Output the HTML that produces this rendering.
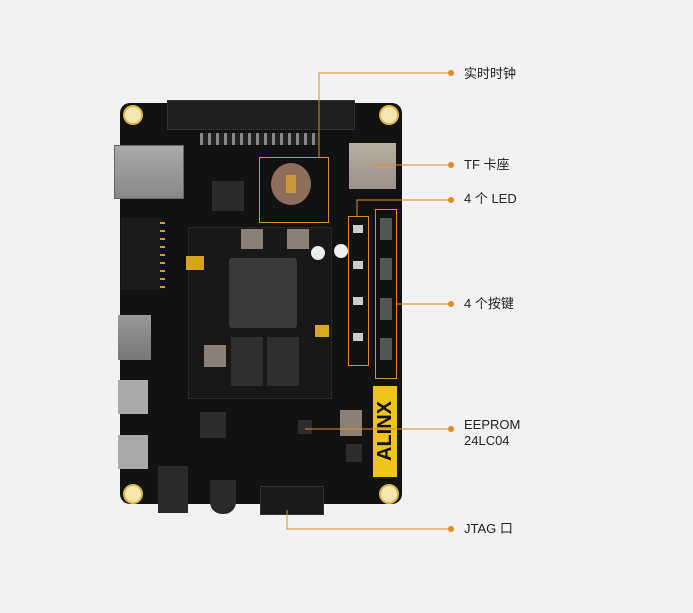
<!DOCTYPE html>
<html><head><meta charset="utf-8"><style>
html,body{margin:0;padding:0;background:#f2f2f2;width:693px;height:613px;overflow:hidden}
.a{position:absolute}
.t{position:absolute;font-family:"Liberation Sans","Noto Sans CJK SC",sans-serif;font-size:13px;color:#222;line-height:16px}
</style></head><body>
<div class="a" style="left:0;top:0;width:693px;height:613px">
<!-- board -->
<div class="a" style="left:120px;top:103px;width:282px;height:401px;background:#121212;border-radius:10px"></div>
<!-- mounting holes -->
<div class="a" style="left:123px;top:105px;width:16px;height:16px;border-radius:50%;background:#f4e7b0;border:2px solid #d9b645"></div>
<div class="a" style="left:379px;top:105px;width:16px;height:16px;border-radius:50%;background:#f4e7b0;border:2px solid #d9b645"></div>
<div class="a" style="left:123px;top:484px;width:16px;height:16px;border-radius:50%;background:#f4e7b0;border:2px solid #d9b645"></div>
<div class="a" style="left:379px;top:484px;width:16px;height:16px;border-radius:50%;background:#f4e7b0;border:2px solid #d9b645"></div>
<!-- top header -->
<div class="a" style="left:167px;top:100px;width:186px;height:28px;background:#1e1e1e;border:1px solid #333"></div>
<!-- small parts row -->
<div class="a" style="left:200px;top:133px;width:120px;height:12px;background:repeating-linear-gradient(90deg,#888 0 3px,#222 3px 8px)"></div>
<!-- ethernet -->
<div class="a" style="left:114px;top:145px;width:68px;height:52px;background:linear-gradient(#aaa,#888);border:1px solid #666"></div>
<!-- camera -->
<div class="a" style="left:121px;top:218px;width:40px;height:72px;background:#1c1c1c"></div>
<div class="a" style="left:160px;top:222px;width:5px;height:66px;background:repeating-linear-gradient(#c9a040 0 2px,#121212 2px 8px)"></div>
<!-- hdmi -->
<div class="a" style="left:118px;top:315px;width:33px;height:45px;background:linear-gradient(#999,#777)"></div>
<!-- usb / uart -->
<div class="a" style="left:118px;top:380px;width:30px;height:34px;background:#aaa"></div>
<div class="a" style="left:118px;top:435px;width:30px;height:34px;background:#aaa"></div>
<!-- power jack -->
<div class="a" style="left:158px;top:466px;width:30px;height:47px;background:#2a2a2a"></div>
<div class="a" style="left:210px;top:480px;width:26px;height:34px;background:#2a2a2a;border-radius:0 0 12px 12px"></div>
<!-- chip near eth -->
<div class="a" style="left:212px;top:181px;width:32px;height:30px;background:#2a2a2a"></div>
<!-- FPGA module -->
<div class="a" style="left:188px;top:227px;width:142px;height:170px;background:#181818;border:1px solid #2a2a2a"></div>
<div class="a" style="left:229px;top:258px;width:68px;height:70px;background:#3a3a3a;border-radius:3px"></div>
<div class="a" style="left:231px;top:337px;width:32px;height:49px;background:#2f2f2f"></div>
<div class="a" style="left:267px;top:337px;width:32px;height:49px;background:#2f2f2f"></div>
<div class="a" style="left:241px;top:229px;width:22px;height:20px;background:#8a8078"></div>
<div class="a" style="left:287px;top:229px;width:22px;height:20px;background:#8a8078"></div>
<div class="a" style="left:204px;top:345px;width:22px;height:22px;background:#8a8078"></div>
<div class="a" style="left:186px;top:256px;width:18px;height:14px;background:#d6a41a"></div>
<div class="a" style="left:315px;top:325px;width:14px;height:12px;background:#d9a81c"></div>
<!-- arrows -->
<div class="a" style="left:311px;top:246px;width:14px;height:14px;border-radius:50%;background:#eee"></div>
<div class="a" style="left:334px;top:244px;width:14px;height:14px;border-radius:50%;background:#eee"></div>
<!-- RTC -->
<div class="a" style="left:271px;top:163px;width:40px;height:42px;border-radius:50%;background:#8e6d5a"></div>
<div class="a" style="left:286px;top:175px;width:10px;height:18px;background:#c99a3a"></div>
<div class="a" style="left:259px;top:157px;width:70px;height:66px;border:1px solid #e0892a;box-sizing:border-box"></div>
<!-- SD card -->
<div class="a" style="left:349px;top:143px;width:47px;height:46px;background:linear-gradient(#b9aea2,#9b928a)"></div>
<!-- LED box -->
<div class="a" style="left:348px;top:216px;width:21px;height:150px;border:1px solid #e0892a;box-sizing:border-box"></div>
<div class="a" style="left:353px;top:225px;width:10px;height:130px;background:repeating-linear-gradient(#ccc 0 8px,#121212 8px 36px)"></div>
<!-- button box -->
<div class="a" style="left:375px;top:209px;width:22px;height:170px;border:1px solid #e0892a;box-sizing:border-box"></div>
<div class="a" style="left:380px;top:218px;width:12px;height:150px;background:repeating-linear-gradient(#555 0 22px,#121212 22px 40px)"></div>
<!-- ALINX -->
<div class="a" style="left:373px;top:386px;width:24px;height:91px;background:#f0c419"></div>
<div class="a" style="left:374px;top:386px;width:22px;height:91px;font:bold 20px 'Liberation Sans',sans-serif;color:#111;writing-mode:vertical-rl;text-align:center;line-height:22px;transform:rotate(180deg)">ALINX</div>
<!-- eeprom, chips -->
<div class="a" style="left:340px;top:410px;width:22px;height:26px;background:#8a8078"></div>
<div class="a" style="left:200px;top:412px;width:26px;height:26px;background:#2c2c2c"></div>
<div class="a" style="left:298px;top:420px;width:14px;height:14px;background:#2c2c2c"></div>
<div class="a" style="left:346px;top:444px;width:16px;height:18px;background:#2c2c2c"></div>
<!-- JTAG -->
<div class="a" style="left:260px;top:486px;width:62px;height:27px;background:#1a1a1a;border:1px solid #333"></div>
<!-- annotations -->
<svg class="a" style="left:0;top:0" width="693" height="613">
<g stroke="#e0892a" stroke-width="1" fill="none">
<polyline points="319,157 319,73 450,73"/>
<line x1="372" y1="165" x2="450" y2="165"/>
<polyline points="357,216 357,200 450,200"/>
<line x1="397" y1="304" x2="450" y2="304"/>
<line x1="305" y1="429" x2="450" y2="429"/>
<polyline points="287,510 287,529 450,529"/>
</g>
<g fill="#e0892a">
<circle cx="451" cy="73" r="3"/><circle cx="451" cy="165" r="3"/><circle cx="451" cy="200" r="3"/>
<circle cx="451" cy="304" r="3"/><circle cx="451" cy="429" r="3"/><circle cx="451" cy="529" r="3"/>
</g>
</svg>
<div class="t" style="left:464px;top:66px">实时时钟</div>
<div class="t" style="left:464px;top:157px">TF 卡座</div>
<div class="t" style="left:464px;top:191px">4 个 LED</div>
<div class="t" style="left:464px;top:296px">4 个按键</div>
<div class="t" style="left:464px;top:417px">EEPROM<br>24LC04</div>
<div class="t" style="left:464px;top:521px">JTAG 口</div>
</div>
</body></html>
